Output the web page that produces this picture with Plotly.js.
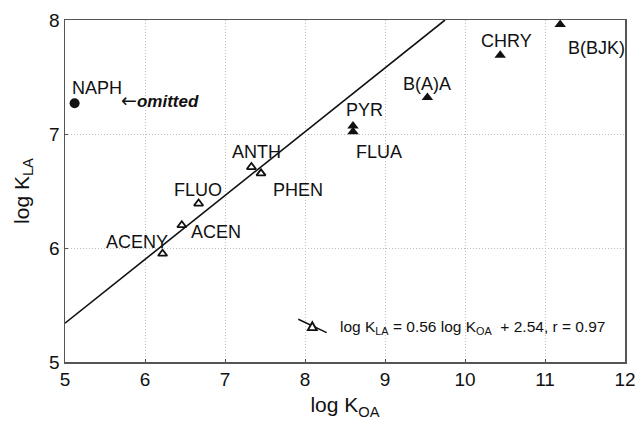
<!DOCTYPE html>
<html>
<head>
<meta charset="utf-8">
<script src="https://cdn.plot.ly/plotly-3.0.1.min.js"></script>
<style>html,body{margin:0;padding:0;background:#fff}#chart{width:637px;height:423px}</style>
</head>
<body>
<div id="chart"></div>
<script>
// Compounds used in regression (open triangles)
const fitNames = ["ACENY", "ACEN", "FLUO", "ANTH", "PHEN"];
const fitKOA   = [6.22, 6.46, 6.67, 7.33, 7.45];
const fitKLA   = [5.95, 6.20, 6.39, 6.71, 6.655];

// Compounds not used (filled triangles)
const otherNames = ["PYR", "FLUA", "B(A)A", "CHRY", "B(BJK)"];
const otherKOA   = [8.60, 8.60, 9.53, 10.44, 11.19];
const otherKLA   = [7.07, 7.02, 7.32, 7.69, 7.96];

// Omitted compound
const omitName = ["NAPH"];
const omitKOA  = [5.12];
const omitKLA  = [7.27];

// Regression line endpoints (log KLA = 0.56 log KOA + 2.54)
const lineKOA = [5.0, 9.75];
const lineKLA = [5.34, 8.0];

const xTicks = [5, 6, 7, 8, 9, 10, 11, 12];
const yTicks = [5, 6, 7, 8];

// label offsets in pixels (style, not data)
const fitOff   = [[-26, 12], [34, -7], [-1, 14], [5, 15], [37, -17]];
const otherOff = [[11, 16], [26, -20], [0, 14], [6, 14], [36, -23]];
const omitOff  = [[22, 15]];

const FONT = "Liberation Sans, Arial, sans-serif";

const traces = [
  {x: lineKOA, y: lineKLA, mode: "lines", line: {color: "#111", width: 1.6}, hoverinfo: "skip"},
  {x: fitKOA, y: fitKLA, mode: "markers", marker: {symbol: "triangle-up-open", size: 8, color: "#111", line: {width: 1.8, color: "#111"}}},
  {x: otherKOA, y: otherKLA, mode: "markers", marker: {symbol: "triangle-up", size: 10, color: "#111"}},
  {x: omitKOA, y: omitKLA, mode: "markers", marker: {symbol: "circle", size: 10, color: "#111"}}
];

const ann = [];
function addLabels(names, xs, ys, offs) {
  names.forEach((n, i) => ann.push({x: xs[i], y: ys[i], text: n, showarrow: false,
    xshift: offs[i][0], yshift: offs[i][1], font: {family: FONT, size: 18, color: "#111"}}));
}
addLabels(fitNames, fitKOA, fitKLA, fitOff);
addLabels(otherNames, otherKOA, otherKLA, otherOff);
addLabels(omitName, omitKOA, omitKLA, omitOff);
ann.push({x: omitKOA[0], y: omitKLA[0], text: "<span style=\"font-family:'DejaVu Sans';font-size:19px\">←</span><b><i>omitted</i></b>", showarrow: false,
  xanchor: "left", xshift: 44, yshift: 3, font: {family: FONT, size: 17, color: "#111"}});
ann.push({xref: "paper", yref: "paper", x: 0.487, y: 0.102, xanchor: "left", yanchor: "middle",
  text: "log K<sub>LA</sub> = 0.56 log K<sub>OA</sub>  + 2.54, r = 0.97", showarrow: false,
  font: {family: FONT, size: 15.5, color: "#111"}});

const shapes = [
  {type: "line", xref: "paper", yref: "paper", x0: 0.4166, y0: 0.1249, x1: 0.4673, y1: 0.0857,
   line: {color: "#111", width: 1.5}},
  {type: "path", xref: "paper", yref: "paper", xsizemode: "pixel", ysizemode: "pixel",
   xanchor: 0.4416, yanchor: 0.1032, path: "M -4.5,-3.5 L 4.5,-3.5 L 0,4.5 Z",
   fillcolor: "#fff", line: {color: "#111", width: 1.8}}
];

const axisCommon = {
  showline: true, mirror: true, linecolor: "#555", linewidth: 1.5,
  showgrid: true, gridcolor: "#bdbdbd", griddash: "1px,2px", gridwidth: 1,
  zeroline: false, ticks: "inside", ticklen: 3, tickcolor: "#555",
  tickfont: {family: FONT, size: 19, color: "#111"}
};

const layout = {
  width: 637, height: 423,
  margin: {l: 65, r: 12, t: 20, b: 61},
  paper_bgcolor: "#fff", plot_bgcolor: "#fff",
  showlegend: false,
  xaxis: Object.assign({}, axisCommon, {range: [5, 12], tickvals: xTicks, ticktext: xTicks.map(String),
    title: {text: "log K<sub>OA</sub>", font: {family: FONT, size: 21, color: "#111"}, standoff: 8}}),
  yaxis: Object.assign({}, axisCommon, {range: [5, 8], tickvals: yTicks, ticktext: yTicks.map(String),
    title: {text: "log K<sub>LA</sub>", font: {family: FONT, size: 21, color: "#111"}, standoff: 14}}),
  annotations: ann,
  shapes: shapes
};

Plotly.newPlot("chart", traces, layout, {staticPlot: true, displayModeBar: false});
</script>
</body>
</html>
